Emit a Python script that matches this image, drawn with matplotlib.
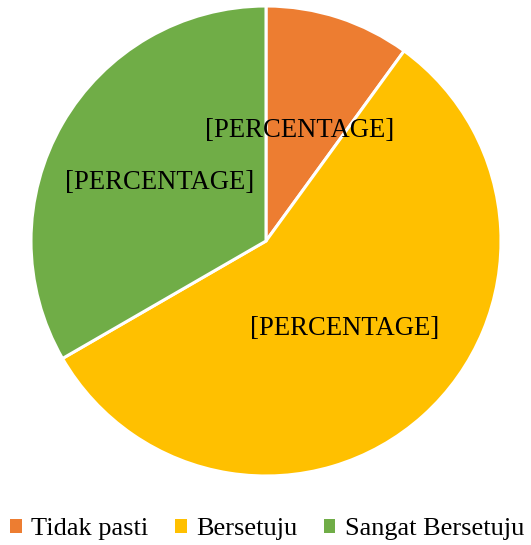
import matplotlib
matplotlib.use("Agg")
import matplotlib.pyplot as plt
from matplotlib.patches import Patch

plt.rcParams['font.family'] = ['Liberation Serif', 'DejaVu Serif']

categories = ['Tidak pasti', 'Bersetuju', 'Sangat Bersetuju']
counts = [3, 17, 10]
colors = ['#ED7D31', '#FFC000', '#70AD47']
label_text = '[PERCENTAGE]'
# label positions in pie data units (radius = 1)
label_pos = [(0.145, 0.472), (0.336, -0.374), (-0.451, 0.247)]

fig = plt.figure(figsize=(5.31, 5.45), dpi=100)
ax = fig.add_axes([31 / 531, (545 - 476) / 545, 470 / 531, 470 / 545])
ax.pie(counts, colors=colors, startangle=90, counterclock=False, radius=1,
       wedgeprops=dict(edgecolor='white', linewidth=2.2))
ax.set_xlim(-1, 1)
ax.set_ylim(-1, 1)
ax.set_aspect('equal')
ax.axis('off')

for (x, y) in label_pos:
    ax.text(x, y, label_text, ha='center', va='center', fontsize=19.2, color='black')

handles = [Patch(facecolor=c, edgecolor='none') for c in colors]
fig.legend(handles, categories, loc='center', bbox_to_anchor=(0.503, 1 - 529 / 545),
           ncol=3, frameon=False, fontsize=19, handlelength=0.45, handleheight=0.45,
           handletextpad=0.35, columnspacing=1.0, borderpad=0.1)

fig.savefig('out.png', dpi=100)
